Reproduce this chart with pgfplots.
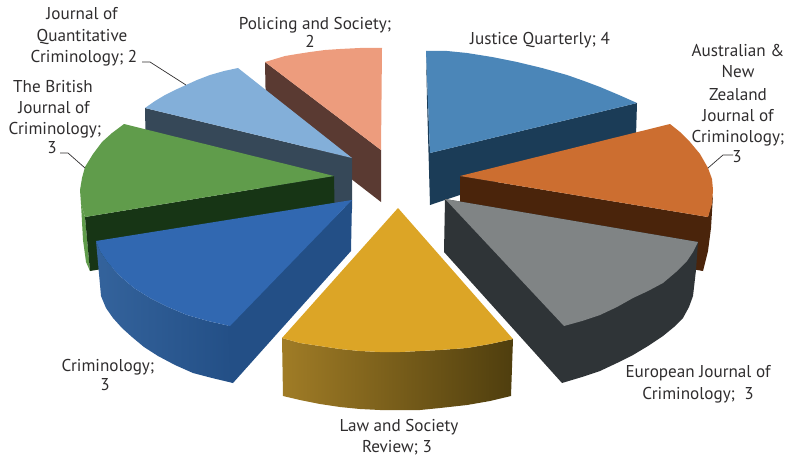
\documentclass[border=0pt]{standalone}
\usepackage{fontspec}
\setmainfont{PT Sans}
\usepackage{pgfplots}
\pgfplotsset{compat=1.18}

\definecolor{txt}{HTML}{2F2D2E}
\definecolor{pinkT}{HTML}{ED9C7D}
\definecolor{pinkS}{HTML}{5A3A32}
\definecolor{lblueT}{HTML}{83AFD9}
\definecolor{lblueS}{HTML}{364858}
\definecolor{greenT}{HTML}{609C4B}
\definecolor{greenS}{HTML}{173515}
\definecolor{blueT}{HTML}{3168B1}
\definecolor{blueS}{HTML}{234F86}
\definecolor{blueL}{HTML}{34639C}
\definecolor{steelT}{HTML}{4B86B8}
\definecolor{steelS}{HTML}{1B3C57}
\definecolor{orangeT}{HTML}{CC6E30}
\definecolor{orangeS}{HTML}{4A240B}
\definecolor{grayT}{HTML}{808485}
\definecolor{grayS}{HTML}{2F3437}
\definecolor{goldT}{HTML}{DCA526}
\definecolor{goldL}{HTML}{A07C26}
\definecolor{goldR}{HTML}{4F3E0E}

\begin{document}
\begin{tikzpicture}[
  lab/.style={anchor=base,inner sep=0pt,text=txt,font=\fontsize{17.2}{20}\selectfont},
]
\begin{axis}[
  scale only axis,
  width=790bp, height=458bp,
  xmin=0, xmax=790, ymin=0, ymax=458,
  y dir=reverse,
  axis lines=none,
  clip=false,
]
% keeps the page at the full size, a hidden axis has no box of its own
\path (axis cs:0,0) rectangle (axis cs:790,458);

% Justice Quarterly
\addplot[fill=steelS,draw=none] coordinates {(426,51)(430,153)(637,103)(636,136)(430,205)(427,100)};
\addplot[fill=steelT,draw=none] coordinates {(426,51)(447,51)(467,53)(492,57)(517,62)(542,68)(567,75)(584,81)(600,87)(619,95)(637,103)(430,153)};

% Australian & New Zealand
\addplot[fill=orangeS,draw=none] coordinates {(460,176)(708,217)(713,195)(711,228)(708,251)(703,271)(460,230)};
\addplot[fill=orangeT,draw=none] coordinates {(460,176)(670,124)(680,132)(690,142)(700,154)(708,168)(712,179)(713,190)(712,204)(708,217)};

% European Journal
\addplot[fill=grayS,draw=none] coordinates {(445,199)(698,242)(696,270)(693,296)(689,307)(683,318)(674,327)(663,336)(648,346)(633,355)(617,363)(600,371)(582,377)(562,383)(444,252)};
\addplot[fill=grayT,draw=none] coordinates {(445,199)(698,242)(693,252)(687,261)(676,272)(663,283)(648,291)(633,298)(617,307)(600,315)(582,321)(564,326)};

% Policing and Society
\addplot[fill=pinkS,draw=none] coordinates {(265,62)(381,150)(381,202)(266,113)};
\addplot[fill=pinkT,draw=none] coordinates {(265,62)(275,59)(285,56)(297,54)(310,52)(325,50)(340,49)(360,48)(382,48)(381,150)};

% Journal of Quantitative Criminology
\addplot[fill=lblueS,draw=none] coordinates {(145,108)(352,158)(352,209)(146,160)};
\addplot[fill=lblueT,draw=none] coordinates {(238,68)(224,71)(210,75)(197,80)(186,85)(175,90)(165,95)(155,101)(145,108)(352,158)};

% British Journal of Criminology
\addplot[fill=greenT,draw=none] coordinates {(81,204)(85,217)(90,271)(86,262)(83,240)};
\addplot[fill=greenS,draw=none] coordinates {(85,217)(334,176)(335,230)(90,271)};
\addplot[fill=greenT,draw=none] coordinates {(124,124)(112,133)(102,142)(93,154)(85,167)(82,178)(80,190)(81,204)(85,217)(334,176)};

% Criminology
\addplot[left color=blueL,right color=blueS,draw=none] coordinates {(96,241)(100,251)(108,263)(120,276)(134,288)(150,298)(168,307)(187,315)(208,321)(230,326)(233,383)(212,378)(193,373)(175,365)(158,356)(144,347)(132,337)(122,328)(113,318)(106,308)(101,296)};
\addplot[fill=blueS,draw=none] coordinates {(228,325)(352,200)(351,251)(233,383)(231,382)};
\addplot[fill=blueT,draw=none] coordinates {(352,200)(96,241)(100,251)(108,263)(120,276)(134,288)(150,298)(168,307)(187,315)(208,321)(230,326)};

% Law and Society Review
\addplot[left color=goldL,right color=goldR,draw=none] coordinates {(282,338)(300,343)(320,346)(340,349)(360,351)(380,352)(400,352)(420,351)(440,350)(467,348)(490,344)(513,339)(511,396)(490,401)(467,405)(440,408)(420,410)(400,410)(380,410)(360,409)(340,407)(320,404)(300,400)(283,396)};
\addplot[fill=goldT,draw=none] coordinates {(398,208)(513,339)(490,344)(467,348)(440,350)(420,351)(400,352)(380,352)(360,351)(340,349)(320,346)(300,343)(282,338)};

% leader lines
\addplot[draw=txt,line width=0.7pt] coordinates {(142,62)(150,62)(186,85)};
\addplot[draw=txt,line width=0.7pt] coordinates {(60,153)(68,153)(85,168)};
\addplot[draw=txt,line width=0.7pt] coordinates {(733,155)(723,155)(708,168)};

% labels
\node[lab] at (axis cs:82,20) {Journal of};
\node[lab] at (axis cs:82,42) {Quantitative};
\node[lab] at (axis cs:84,63) {Criminology; 2};
\node[lab] at (axis cs:315,30) {Policing and Society;};
\node[lab] at (axis cs:310,48) {2};
\node[lab] at (axis cs:53,92) {The British};
\node[lab] at (axis cs:54,113) {Journal of};
\node[lab] at (axis cs:55,134) {Criminology;};
\node[lab] at (axis cs:52,153) {3};
\node[lab] at (axis cs:540,45) {Justice Quarterly; 4};
\node[lab] at (axis cs:738,57) {Australian \&};
\node[lab] at (axis cs:738,78) {New};
\node[lab] at (axis cs:738,100) {Zealand};
\node[lab] at (axis cs:738,121) {Journal of};
\node[lab] at (axis cs:738,142) {Criminology;};
\node[lab] at (axis cs:737,162) {3};
\node[lab] at (axis cs:108,371) {Criminology;};
\node[lab] at (axis cs:105,390) {3};
\node[lab] at (axis cs:399,431) {Law and Society};
\node[lab] at (axis cs:397,452) {Review; 3};
\node[lab] at (axis cs:698,377) {European Journal of};
\node[lab] at (axis cs:698,399) {Criminology;\ \ 3};

\end{axis}
\end{tikzpicture}
\end{document}
